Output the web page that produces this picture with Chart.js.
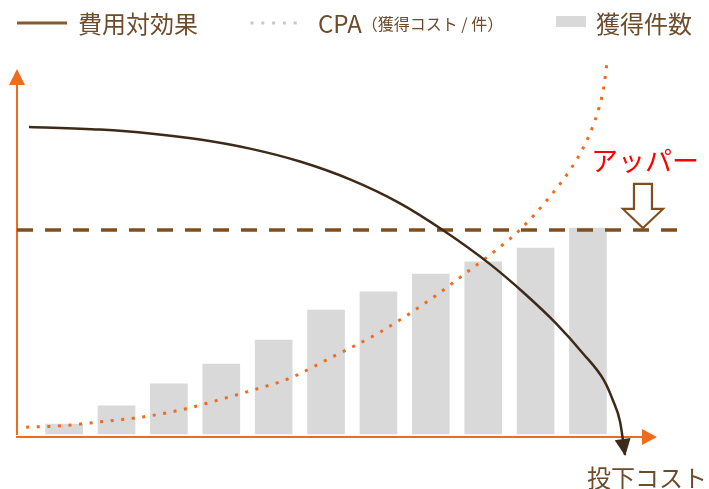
<!DOCTYPE html>
<html><head><meta charset="utf-8">
<script src="https://cdn.jsdelivr.net/npm/chart.js@4"></script>
<style>html,body{margin:0;padding:0;background:#fff;}#wrap{width:709px;height:489px;position:relative;}</style>
</head><body><div id="wrap"><canvas id="c" width="709" height="489"></canvas></div>
<script>
// ---- data ----
const steps = [1, 2, 3, 4, 5, 6, 7, 8, 9, 10, 11];
const acquisitions = [2.6, 7.4, 13.2, 18.4, 24.7, 32.6, 37.4, 42.1, 45.3, 48.9, 54.2];
const effectX = [0.329, 1.685, 2.639, 3.594, 4.548, 5.503, 6.457, 7.412, 8.214, 9.130, 9.779, 10.390, 10.905, 11.306, 11.478, 11.612, 11.708];
const effectY = [80.8, 80.1, 79.1, 77.5, 75.1, 71.7, 67.0, 60.7, 53.8, 44.7, 37.1, 29.1, 21.2, 14.1, 8.8, 3.3, -5.5];
const cpaX = [0.275, 0.885, 1.69, 2.51, 3.31, 4.09, 4.49, 5.31, 6.08, 7.03, 7.98, 8.75, 9.32, 9.70, 10.27, 10.66, 10.91, 11.08, 11.21, 11.30, 11.37];
const cpaY = [1.8, 2.1, 3.2, 4.5, 6.6, 9.5, 11.1, 14.7, 20.0, 26.8, 35.3, 43.2, 49.2, 53.7, 62.4, 69.5, 75.3, 80.5, 85.8, 91.1, 98.5];
const upperLimit = 53.7;
const xRange = [0.1, 12.7];
const yRange = [-10, 100];
const txt = { effect: '費用対効果', cpa: 'CPA', cpaNote: '（獲得コスト / 件）', acq: '獲得件数', upper: 'アッパー', xTitle: '投下コスト' };

const FONT = "'Noto Sans CJK JP', 'Noto Sans', sans-serif";
const ORANGE = '#ED6C1E';
const BROWN_DARK = '#3d2a18';
const BROWN = '#7f4f1f';
const TEXT = '#6e4b2b';
const GRAY = '#d9d9d9';

const toXY = (xs, ys) => xs.map((v, i) => ({ x: v, y: ys[i] }));

const deco = {
  id: 'deco',
  beforeDatasetsDraw(chart) {
    const { ctx, scales: { x, y } } = chart;
    const ox = x.getPixelForValue(xRange[0]);
    const oy = y.getPixelForValue(0) + 3;
    ctx.save();
    ctx.strokeStyle = ORANGE; ctx.fillStyle = ORANGE; ctx.lineWidth = 2;
    ctx.beginPath(); ctx.moveTo(ox, oy - 2); ctx.lineTo(ox, 84); ctx.stroke();
    ctx.beginPath(); ctx.moveTo(ox, 69); ctx.lineTo(ox - 8, 85); ctx.lineTo(ox + 8, 85); ctx.closePath(); ctx.fill();
    ctx.beginPath(); ctx.moveTo(ox - 1, oy); ctx.lineTo(643, oy); ctx.stroke();
    ctx.beginPath(); ctx.moveTo(657, oy); ctx.lineTo(642, oy - 8); ctx.lineTo(642, oy + 8); ctx.closePath(); ctx.fill();
    ctx.restore();
  },
  afterDatasetsDraw(chart) {
    const { ctx } = chart;
    const meta = chart.getDatasetMeta(3);
    const pts = meta.data;
    const p2 = pts[pts.length - 1];
    let qx = p2.cp1x, qy = p2.cp1y;
    if (qx === undefined || (qx === p2.x && qy === p2.y)) { qx = pts[pts.length - 2].x; qy = pts[pts.length - 2].y; }
    const dx = p2.x - qx, dy = p2.y - qy, len = Math.hypot(dx, dy);
    const ux = dx / len, uy = dy / len;
    const bx = p2.x - ux * 16, by = p2.y - uy * 16;
    ctx.save();
    ctx.fillStyle = BROWN_DARK;
    ctx.beginPath();
    ctx.moveTo(p2.x + ux, p2.y + uy);
    ctx.lineTo(bx - uy * 8, by + ux * 8);
    ctx.lineTo(bx + uy * 8, by - ux * 8);
    ctx.closePath(); ctx.fill();
    ctx.restore();
  },
  afterDraw(chart) {
    const { ctx, scales: { x, y } } = chart;
    ctx.save();
    const tx = x.getPixelForValue(12.05), ty = y.getPixelForValue(upperLimit) - 2;
    ctx.strokeStyle = BROWN; ctx.fillStyle = '#fff'; ctx.lineWidth = 2.2; ctx.lineJoin = 'miter';
    ctx.beginPath();
    ctx.moveTo(tx, ty);
    ctx.lineTo(tx - 20, ty - 19);
    ctx.lineTo(tx - 9, ty - 19);
    ctx.lineTo(tx - 9, ty - 44);
    ctx.lineTo(tx + 9, ty - 44);
    ctx.lineTo(tx + 9, ty - 19);
    ctx.lineTo(tx + 20, ty - 19);
    ctx.closePath(); ctx.fill(); ctx.stroke();
    ctx.fillStyle = '#ff0000';
    ctx.font = `27px ${FONT}`;
    ctx.textBaseline = 'middle'; ctx.textAlign = 'left';
    ctx.fillText(txt.upper, 591, 161);
    ctx.fillStyle = TEXT;
    ctx.font = `24px ${FONT}`;
    ctx.fillText(txt.xTitle, 587, 478);
    const ly = 23;
    ctx.strokeStyle = '#8b5a2b'; ctx.lineWidth = 3;
    ctx.beginPath(); ctx.moveTo(17, ly); ctx.lineTo(67, ly); ctx.stroke();
    ctx.fillStyle = TEXT; ctx.font = `24px ${FONT}`;
    ctx.fillText(txt.effect, 78, ly + 1);
    ctx.strokeStyle = '#c8c8c8'; ctx.lineWidth = 3; ctx.setLineDash([3, 7.8]);
    ctx.beginPath(); ctx.moveTo(250.5, ly); ctx.lineTo(297, ly); ctx.stroke();
    ctx.setLineDash([]);
    ctx.fillText(txt.cpa, 318, ly + 1);
    const w = ctx.measureText(txt.cpa).width;
    ctx.font = `16px ${FONT}`;
    ctx.fillText(txt.cpaNote, 318 + w, ly + 1);
    ctx.fillStyle = GRAY;
    ctx.fillRect(556, 16, 30, 11);
    ctx.fillStyle = TEXT; ctx.font = `24px ${FONT}`;
    ctx.fillText(txt.acq, 596, ly + 1);
    ctx.restore();
  }
};

new Chart(document.getElementById('c'), {
  type: 'bar',
  data: {
    datasets: [
      { type: 'bar', label: txt.acq, data: toXY(steps, acquisitions), backgroundColor: GRAY, barThickness: 37, order: 4 },
      { type: 'line', label: 'upper', data: toXY(xRange, [upperLimit, upperLimit]), borderColor: BROWN, borderWidth: 3.5, borderDash: [16, 12], pointRadius: 0, order: 3 },
      { type: 'line', label: txt.cpa, data: toXY(cpaX, cpaY), borderColor: ORANGE, borderWidth: 3, borderDash: [3, 7.6], pointRadius: 0, cubicInterpolationMode: 'monotone', order: 2 },
      { type: 'line', label: txt.effect, data: toXY(effectX, effectY), borderColor: BROWN_DARK, borderWidth: 2.5, pointRadius: 0, cubicInterpolationMode: 'monotone', order: 1 }
    ]
  },
  options: {
    responsive: false,
    animation: false,
    devicePixelRatio: 1,
    layout: { padding: { left: 17, right: 32, top: 54, bottom: 17 } },
    scales: {
      x: { type: 'linear', min: xRange[0], max: xRange[1], offset: false, display: false, grid: { offset: false } },
      y: { type: 'linear', min: yRange[0], max: yRange[1], display: false }
    },
    plugins: { legend: { display: false }, tooltip: { enabled: false } }
  },
  plugins: [deco]
});
</script></body></html>
